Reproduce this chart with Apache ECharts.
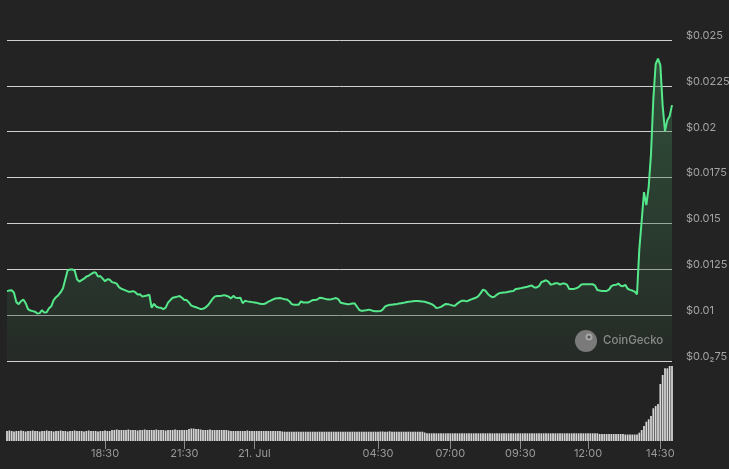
<!DOCTYPE html>
<html>
<head>
<meta charset="utf-8">
<script src="https://cdn.jsdelivr.net/npm/echarts@6/dist/echarts.min.js"></script>
<style>
  html, body { margin: 0; padding: 0; background: #232323; }
  #chart { width: 729px; height: 469px; }
</style>
</head>
<body>
<div id="chart"></div>
<script>
// ---- Data ----
const tickLabels = ['18:30', '21:30', '21. Jul', '04:30', '07:00', '09:30', '12:00', '14:30'];
const tickPoints = [42, 76, 106, 159, 190, 220, 249, 280];

const priceTickLabels = ['$0.0\u208275', '$0.01', '$0.0125', '$0.015', '$0.0175', '$0.02', '$0.0225', '$0.025'];

const price = [
  0.01131,0.01134,0.01136,0.01122,0.01071,0.01060,0.01076,0.01085,0.01065,0.01033,
  0.01025,0.01022,0.01019,0.01009,0.01011,0.01027,0.01014,0.01016,0.01038,0.01049,
  0.01082,0.01098,0.01109,0.01125,0.01147,0.01196,0.01245,0.01249,0.01249,0.01243,
  0.01196,0.01183,0.01191,0.01199,0.01210,0.01215,0.01224,0.01232,0.01232,0.01210,
  0.01213,0.01199,0.01185,0.01196,0.01194,0.01180,0.01177,0.01172,0.01153,0.01144,
  0.01139,0.01134,0.01128,0.01128,0.01131,0.01125,0.01112,0.01114,0.01101,0.01104,
  0.01107,0.01112,0.01040,0.01062,0.01046,0.01042,0.01040,0.01033,0.01041,0.01068,
  0.01082,0.01095,0.01098,0.01101,0.01104,0.01095,0.01083,0.01082,0.01068,0.01052,
  0.01047,0.01043,0.01038,0.01033,0.01035,0.01041,0.01052,0.01068,0.01087,0.01101,
  0.01104,0.01105,0.01106,0.01109,0.01106,0.01101,0.01091,0.01105,0.01095,0.01094,
  0.01095,0.01065,0.01078,0.01075,0.01073,0.01071,0.01069,0.01067,0.01064,0.01061,
  0.01061,0.01065,0.01074,0.01079,0.01086,0.01091,0.01092,0.01093,0.01090,0.01087,
  0.01085,0.01076,0.01060,0.01057,0.01056,0.01057,0.01075,0.01069,0.01069,0.01069,
  0.01075,0.01082,0.01083,0.01085,0.01095,0.01093,0.01090,0.01086,0.01085,0.01087,
  0.01090,0.01093,0.01087,0.01068,0.01065,0.01062,0.01060,0.01061,0.01063,0.01064,
  0.01046,0.01028,0.01023,0.01025,0.01027,0.01030,0.01027,0.01022,0.01021,0.01021,
  0.01022,0.01030,0.01046,0.01053,0.01056,0.01057,0.01059,0.01060,0.01063,0.01065,
  0.01067,0.01070,0.01073,0.01074,0.01076,0.01077,0.01077,0.01076,0.01075,0.01073,
  0.01069,0.01065,0.01060,0.01052,0.01039,0.01041,0.01045,0.01053,0.01061,0.01060,
  0.01056,0.01053,0.01051,0.01063,0.01072,0.01079,0.01079,0.01075,0.01081,0.01086,
  0.01091,0.01095,0.01104,0.01120,0.01139,0.01134,0.01117,0.01105,0.01098,0.01101,
  0.01112,0.01120,0.01122,0.01124,0.01125,0.01128,0.01130,0.01132,0.01142,0.01144,
  0.01146,0.01149,0.01152,0.01155,0.01159,0.01161,0.01151,0.01151,0.01158,0.01180,
  0.01185,0.01190,0.01183,0.01166,0.01169,0.01174,0.01174,0.01167,0.01172,0.01172,
  0.01166,0.01142,0.01142,0.01143,0.01147,0.01153,0.01166,0.01169,0.01169,0.01169,
  0.01169,0.01169,0.01161,0.01137,0.01134,0.01132,0.01132,0.01132,0.01139,0.01158,
  0.01164,0.01165,0.01172,0.01160,0.01158,0.01165,0.01144,0.01138,0.01134,0.01128,
  0.01114,0.01360,0.01513,0.01671,0.01600,0.01698,0.01878,0.02178,0.02368,0.02398,
  0.02363,0.02141,0.02003,0.02063,0.02085,0.02145
];

const volume = [
  10,10.5,10,9.5,10,10,10.5,10,9.5,10,
  10,10.5,10,10,9.5,10,10,10.5,10,10,
  9.5,10,10,10.5,10,10,9.5,10,10,10.5,
  10,10,10,9.5,10,10.5,10,10,10,9.5,
  10,10,10.5,10,10,11,11,11.5,11,11,
  11,11,11.5,11,11,11,10.5,11,11,11.5,
  11,11,11,11,11.5,11,11,11,10.5,11,
  11,11,11.5,11,11,11,11,11,12,12.5,
  12.5,12,12,11.5,11,11,11,11.5,11,11,
  11,11,11,11,11,10.5,10,10,10,10,
  10,10,10,10.5,10,10,10,10,10,10,
  10,10,10,10,10,10,10,10,9.5,9.3,
  9.3,9.3,9.3,9.3,9.3,9.3,9.3,9.3,9.3,9.3,
  9.3,9.3,9.3,9.3,9.3,9.3,9.3,9.3,9.3,9.3,
  9.3,9.3,9.3,9.3,9.3,9.3,9.3,9.3,9.3,9.3,
  9.3,9.3,9.3,9.3,9.3,9.3,9.3,9.3,9.3,9.3,
  9.5,9.5,9.3,9.3,9.7,9.3,9.3,9.3,9.3,9.3,
  9.3,9.3,9.3,9.3,9.3,9.3,9.3,9.3,9.3,8.5,
  7.7,7.7,7.7,7.7,7.7,7.7,7.7,7.7,7.7,7.7,
  7.7,7.7,7.7,7.7,7.7,7.7,7.7,7.7,7.7,7.7,
  7.7,7.7,7.7,7.7,7.7,7.7,7.7,7.7,7.7,7.7,
  7.7,7.7,7.7,7.7,7.7,7.7,7.7,7.7,7.7,7.7,
  7.7,7.7,7.7,7.7,7.7,7.7,7.7,7.7,7.7,7.7,
  7.7,7.7,7.7,7.7,7.7,7.7,7.7,7.7,7.7,7.7,
  7.7,7.7,7.7,7.7,7.7,7.7,7.7,7.7,7.7,7.7,
  7.7,7.7,7.7,7.7,7,7,7,7,7,7,
  7,7,7,7,7,6.5,6.5,6.5,6.5,6.5,
  6.5,8.3,11,15,19.3,21.7,25,32.7,35,37,
  57,66,72.7,72.7,75,75
];

// ---- Chart ----
const categories = price.map((_, i) => i);
const isTick = (i) => tickPoints.indexOf(Number(i)) !== -1;
const FONT = 'Inter, "Noto Sans", sans-serif';

const chart = echarts.init(document.getElementById('chart'), null, { renderer: 'canvas' });
chart.setOption({
  backgroundColor: '#232323',
  animation: false,
  grid: [
    { left: 7, right: 57, top: 40, height: 321, containLabel: false, outerBoundsMode: 'none' },
    { left: 7, right: 57, top: 366, height: 75, containLabel: false, outerBoundsMode: 'none' }
  ],
  xAxis: [
    {
      type: 'category', gridIndex: 0, data: categories, boundaryGap: false,
      axisLine: { show: false }, axisTick: { show: false }, axisLabel: { show: false },
      splitLine: { show: false }
    },
    {
      type: 'category', gridIndex: 1, data: categories, boundaryGap: false,
      axisLine: { show: false },
      axisTick: {
        show: true, length: 8, interval: (i) => isTick(i),
        lineStyle: { color: '#8a8a8a', width: 1 }
      },
      axisLabel: {
        interval: (i) => isTick(i),
        formatter: (v) => { const k = tickPoints.indexOf(Number(v)); return k >= 0 ? tickLabels[k] : ''; },
        color: '#9a9a9a', fontSize: 11, fontFamily: FONT, margin: 7
      },
      splitLine: { show: false }
    }
  ],
  yAxis: [
    {
      type: 'value', gridIndex: 0, position: 'right',
      min: 0.0075, max: 0.025, interval: 0.0025,
      axisLine: { show: false }, axisTick: { show: false },
      splitLine: { show: true, lineStyle: { color: '#cfcfcf', width: 1 } },
      axisLabel: {
        margin: 14, color: '#a3a3a3', fontSize: 11, fontFamily: FONT,
        verticalAlign: 'bottom', lineHeight: 9,
        formatter: (v) => { const k = Math.round((v - 0.0075) / 0.0025); return priceTickLabels[k] || ''; }
      }
    },
    {
      type: 'value', gridIndex: 1, min: 0, max: 75, show: false,
      splitLine: { show: false }
    }
  ],
  series: [
    {
      type: 'line', xAxisIndex: 0, yAxisIndex: 0, data: price,
      symbol: 'none', smooth: false,
      lineStyle: { color: '#55e88b', width: 2 },
      areaStyle: {
        color: new echarts.graphic.LinearGradient(0, 0, 0, 1, [
          { offset: 0, color: 'rgba(70,150,95,0.55)' },
          { offset: 0.6, color: 'rgba(52,100,66,0.5)' },
          { offset: 1, color: 'rgba(42,55,45,0.5)' }
        ])
      },
      z: 3
    },
    {
      type: 'bar', xAxisIndex: 1, yAxisIndex: 1, data: volume,
      barWidth: '75%', barGap: '0%',
      itemStyle: { color: '#d6d6d6' },
      z: 2
    }
  ],
  graphic: [
    { type: 'circle', shape: { cx: 586, cy: 341, r: 11 }, style: { fill: '#7a7a7a' }, z: 10 },
    { type: 'circle', shape: { cx: 589, cy: 337, r: 3.5 }, style: { fill: '#a8a8a8' }, z: 11 },
    { type: 'circle', shape: { cx: 589, cy: 337, r: 1.6 }, style: { fill: '#555555' }, z: 12 },
    { type: 'text', left: 603, top: 335, style: { text: 'CoinGecko', fill: '#8a8a8a', fontSize: 11.5, fontFamily: FONT, fontWeight: 500 }, z: 10 }
  ]
});
</script>
</body>
</html>
